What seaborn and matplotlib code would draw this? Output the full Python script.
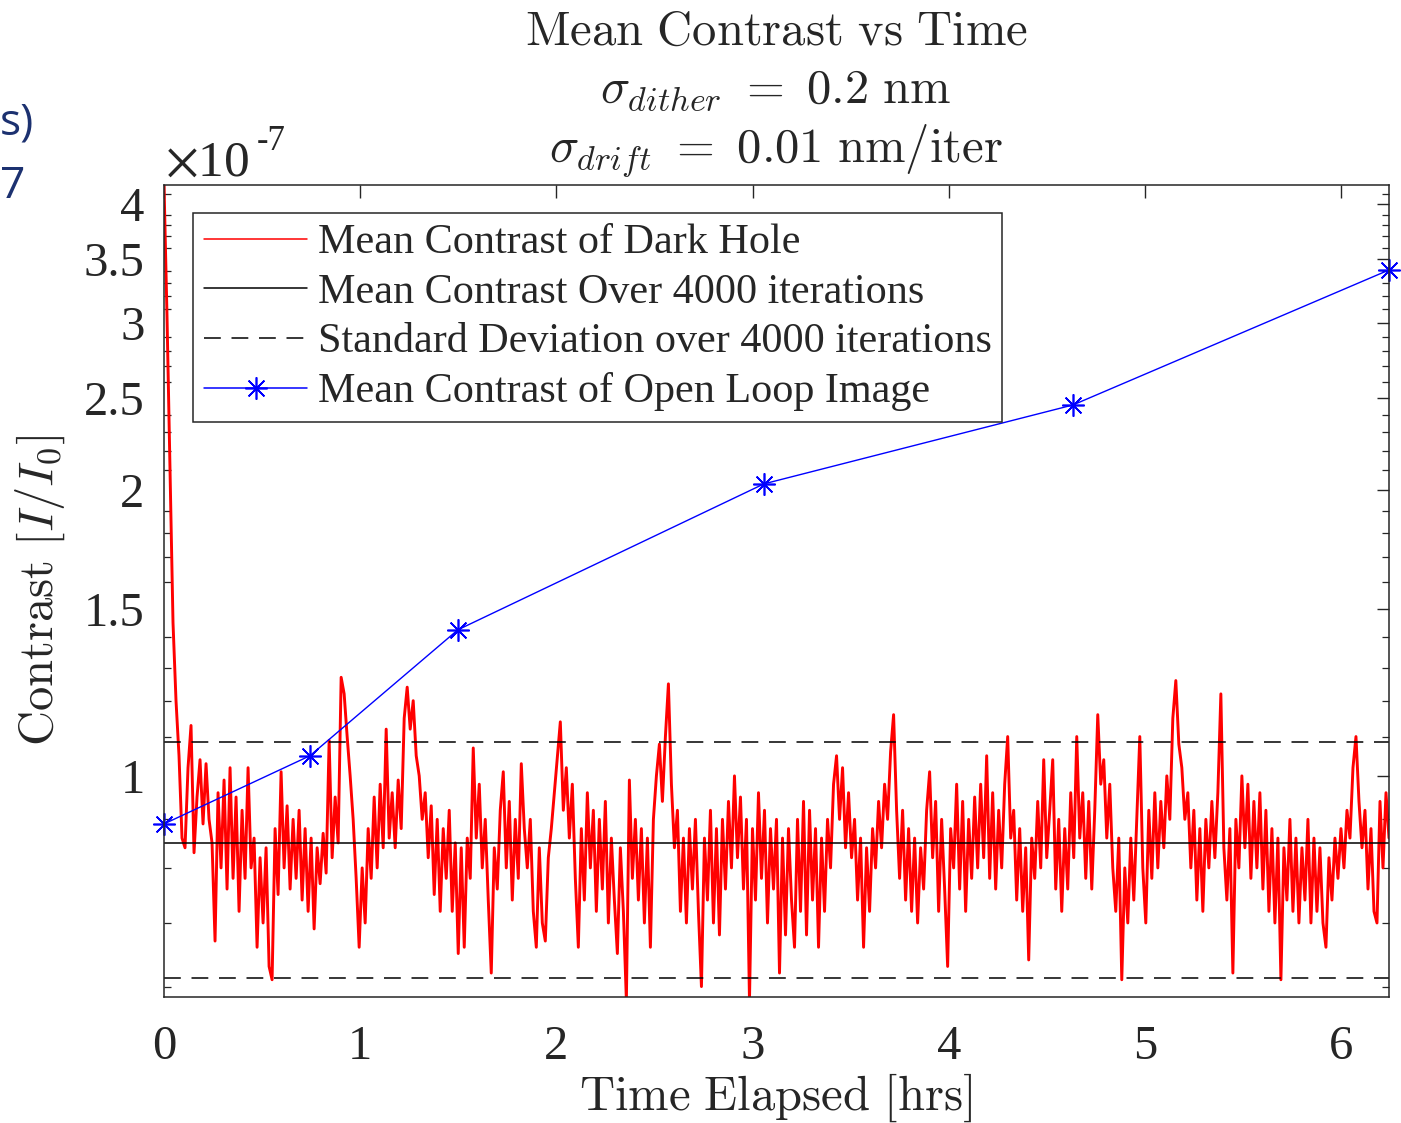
import matplotlib
matplotlib.use("Agg")
import matplotlib.pyplot as plt
import numpy as np
import seaborn as sns

# mean contrast of the dark hole, in units of 1e-7, read every ~0.0153 hrs
dark_hole = [
    4.20, 3.05, 2.10, 1.45, 1.20, 1.05, 0.86, 0.84, 1.02, 1.13,
    0.83, 0.95, 1.04, 0.89, 1.03, 0.90, 0.85, 0.67, 0.96, 0.80,
    0.99, 0.76, 1.02, 0.78, 0.95, 0.72, 0.92, 0.78, 1.02, 0.80,
    0.86, 0.66, 0.82, 0.70, 0.84, 0.63, 0.61, 0.88, 0.75, 1.01,
    0.80, 0.93, 0.76, 0.90, 0.78, 0.92, 0.74, 0.88, 0.72, 0.86,
    0.69, 0.84, 0.77, 0.87, 0.79, 1.09, 0.82, 0.95, 0.85, 1.27,
    1.22, 1.10, 1.00, 0.90, 0.78, 0.66, 0.80, 0.70, 0.88, 0.78,
    0.95, 0.80, 0.98, 0.84, 1.12, 0.86, 0.96, 0.84, 0.99, 0.88,
    1.15, 1.24, 1.12, 1.20, 1.05, 1.00, 0.90, 0.96, 0.82, 0.93,
    0.75, 0.90, 0.72, 0.88, 0.78, 0.92, 0.72, 0.85, 0.65, 0.84,
    0.66, 0.86, 0.78, 1.07, 0.86, 0.98, 0.80, 0.90, 0.74, 0.62,
    0.84, 0.76, 0.92, 1.01, 0.80, 0.94, 0.74, 0.90, 0.78, 1.03,
    0.88, 0.80, 0.90, 0.72, 0.66, 0.84, 0.70, 0.67, 0.82, 0.88,
    0.96, 1.05, 1.14, 0.92, 1.02, 0.86, 0.98, 0.78, 0.66, 0.88,
    0.74, 0.96, 0.80, 0.92, 0.72, 0.90, 0.76, 0.94, 0.70, 0.86,
    0.74, 0.65, 0.84, 0.72, 0.58, 0.99, 0.78, 0.90, 0.74, 0.88,
    0.70, 0.86, 0.66, 0.90, 1.00, 1.08, 0.94, 1.10, 1.25, 0.98,
    0.84, 0.92, 0.72, 0.86, 0.70, 0.88, 0.76, 0.90, 0.72, 0.60,
    0.86, 0.74, 0.92, 0.70, 0.88, 0.68, 0.90, 0.76, 0.94, 0.80,
    1.00, 0.82, 0.95, 0.76, 0.90, 0.58, 0.88, 0.74, 0.96, 0.78,
    0.92, 0.70, 0.88, 0.76, 0.90, 0.62, 0.86, 0.68, 0.88, 0.74,
    0.66, 0.90, 0.72, 0.94, 0.68, 0.92, 0.74, 0.88, 0.66, 0.86,
    0.72, 0.90, 0.80, 0.98, 1.05, 0.90, 1.02, 0.84, 0.96, 0.82,
    0.90, 0.74, 0.86, 0.66, 0.84, 0.72, 0.88, 0.80, 0.94, 0.84,
    0.98, 0.90, 1.06, 1.16, 0.92, 0.78, 0.92, 0.74, 0.88, 0.72,
    0.86, 0.70, 0.84, 0.76, 0.92, 1.01, 0.82, 0.94, 0.72, 0.90,
    0.76, 0.63, 0.88, 0.80, 0.98, 0.76, 0.94, 0.72, 0.90, 0.78,
    0.95, 0.80, 0.98, 0.82, 1.05, 0.78, 0.96, 0.76, 0.92, 0.80,
    0.98, 1.10, 0.86, 0.92, 0.74, 0.88, 0.72, 0.84, 0.64, 0.86,
    0.78, 0.94, 0.80, 1.04, 0.82, 0.92, 1.04, 0.76, 0.90, 0.72,
    0.88, 0.76, 0.96, 0.82, 1.10, 0.86, 0.96, 0.78, 0.94, 0.76,
    0.92, 1.16, 0.98, 1.04, 0.86, 0.98, 0.80, 0.72, 0.86, 0.61,
    0.80, 0.70, 0.86, 0.74, 0.90, 1.10, 0.80, 0.70, 0.92, 0.78,
    0.96, 0.80, 0.94, 0.84, 1.00, 0.90, 1.15, 1.26, 1.08, 1.02,
    0.90, 0.96, 0.80, 0.92, 0.74, 0.88, 0.72, 0.90, 0.80, 0.94,
    0.82, 0.96, 1.22, 0.84, 0.74, 0.88, 0.62, 0.90, 0.80, 1.00,
    0.84, 0.98, 0.78, 0.94, 0.80, 0.96, 0.76, 0.92, 0.72, 0.88,
    0.70, 0.86, 0.61, 0.84, 0.74, 0.90, 0.72, 0.86, 0.70, 0.84,
    0.74, 0.90, 0.70, 0.86, 0.72, 0.84, 0.70, 0.66, 0.82, 0.74,
    0.86, 0.78, 0.88, 0.80, 0.92, 0.86, 1.02, 1.10, 0.94, 0.84,
    0.92, 0.76, 0.88, 0.72, 0.70, 0.94, 0.80, 0.96, 0.86,
]
t_end = 6.244  # hrs, 4000 iterations

open_loop_hrs = [0.0, 0.744, 1.498, 3.058, 4.633, 6.244]
open_loop_contrast = [0.890, 1.050, 1.425, 2.030, 2.458, 3.41]

mean_contrast = 0.850
std_upper = 1.086
std_lower = 0.613

x_ticks = [0, 1, 2, 3, 4, 5, 6]
y_ticks = [1, 1.5, 2, 2.5, 3, 3.5, 4]
y_tick_labels = ["1", "1.5", "2", "2.5", "3", "3.5", "4"]

sns.set_style("white")
plt.rcParams["font.family"] = ["Liberation Serif", "DejaVu Serif"]

fig = plt.figure(figsize=(14.01, 11.23), dpi=100)
ax = fig.add_axes([164 / 1401, 1 - 997 / 1123, 1225 / 1401, 812 / 1123])

hrs = np.linspace(0, t_end, len(dark_hole))
sns.lineplot(x=hrs, y=dark_hole, color="red", lw=2.1, ax=ax,
             label="Mean Contrast of Dark Hole", sort=False)
ax.axhline(mean_contrast, color="black", lw=1.1,
           label="Mean Contrast Over 4000 iterations")
ax.axhline(std_upper, color="black", lw=1.1, ls=(0, (11, 7)),
           label="Standard Deviation over 4000 iterations")
ax.axhline(std_lower, color="black", lw=1.1, ls=(0, (11, 7)))
sns.lineplot(x=open_loop_hrs, y=open_loop_contrast, color="blue", lw=1.0,
             marker=(8, 2, 0), markersize=16, markeredgecolor="blue",
             markeredgewidth=1.2, ax=ax, clip_on=False,
             label="Mean Contrast of Open Loop Image")

ax.set_yscale("log")
ax.set_xlim(0, t_end)
ax.set_ylim(0.585, 4.19)
ax.set_xticks(x_ticks)
ax.set_xticklabels([str(v) for v in x_ticks])
ax.set_yticks(y_ticks)
ax.set_yticklabels(y_tick_labels)
minor = [round(0.6 + 0.1 * i, 1) for i in range(36)]
ax.set_yticks([m for m in minor if m not in y_ticks], minor=True)
ax.yaxis.set_minor_formatter(matplotlib.ticker.NullFormatter())

ax.tick_params(axis="both", which="major", direction="in", length=9, width=1,
               labelsize=35, colors="#262626", top=True, right=True)
ax.tick_params(axis="x", which="major", pad=20)
ax.tick_params(axis="y", which="major", pad=14)
ax.tick_params(axis="y", which="minor", direction="in", length=5, width=0.9,
               left=True, right=True, colors="#262626")
ax.tick_params(axis="x", which="minor", bottom=False, top=False)
for s in ax.spines.values():
    s.set_color("#262626")
    s.set_linewidth(1.1)
ax.set_xlabel("")
ax.set_ylabel("")

leg = ax.legend(loc="upper left", bbox_to_anchor=(0.0237, 0.9655),
                borderaxespad=0, fontsize=30.3, frameon=True, fancybox=False,
                edgecolor="#262626", framealpha=1, handlelength=2.45,
                handletextpad=0.25, labelspacing=0.26, borderpad=0.26)
leg.get_frame().set_linewidth(1.1)
for h in leg.get_lines():
    h.set_linewidth(1.1)

fig.text(776 / 1401, 1 - 45 / 1123, r"$\mathrm{Mean\ Contrast\ vs\ Time}$",
         ha="center", va="baseline", fontsize=35, math_fontfamily="cm", color="#262626")
fig.text(776 / 1401, 1 - 103 / 1123, r"$\sigma_{dither}\ =\ 0.2\ \mathrm{nm}$",
         ha="center", va="baseline", fontsize=35, math_fontfamily="cm", color="#262626")
fig.text(776 / 1401, 1 - 162 / 1123, r"$\sigma_{drift}\ =\ 0.01\ \mathrm{nm/iter}$",
         ha="center", va="baseline", fontsize=35, math_fontfamily="cm", color="#262626")
fig.text(776 / 1401, 1 - 1110 / 1123, r"$\mathrm{Time\ Elapsed\ [hrs]}$",
         ha="center", va="baseline", fontsize=35, math_fontfamily="cm", color="#262626")
fig.text(40 / 1401, 1 - 590 / 1123, r"$\mathrm{Contrast}\ [I/I_0]$",
         ha="center", va="center", rotation=90, fontsize=35,
         math_fontfamily="cm", color="#262626")
fig.text(165 / 1401, 1 - 176 / 1123, r"$\times$10", ha="left", va="baseline",
         fontsize=37, math_fontfamily="stix", color="#262626")
fig.text(257 / 1401, 1 - 150 / 1123, "-7", ha="left", va="baseline",
         fontsize=25, color="#262626")

# bits of the slide that show at the left edge
fig.text(0, 1 - 134 / 1123, "s)", ha="left", va="baseline", fontsize=32,
         family=["Open Sans", "DejaVu Sans"], color="#1c3170")
fig.text(0, 1 - 198 / 1123, "7", ha="left", va="baseline", fontsize=32,
         family=["Open Sans", "DejaVu Sans"], color="#1c3170")

fig.savefig("out.png", dpi=100)
